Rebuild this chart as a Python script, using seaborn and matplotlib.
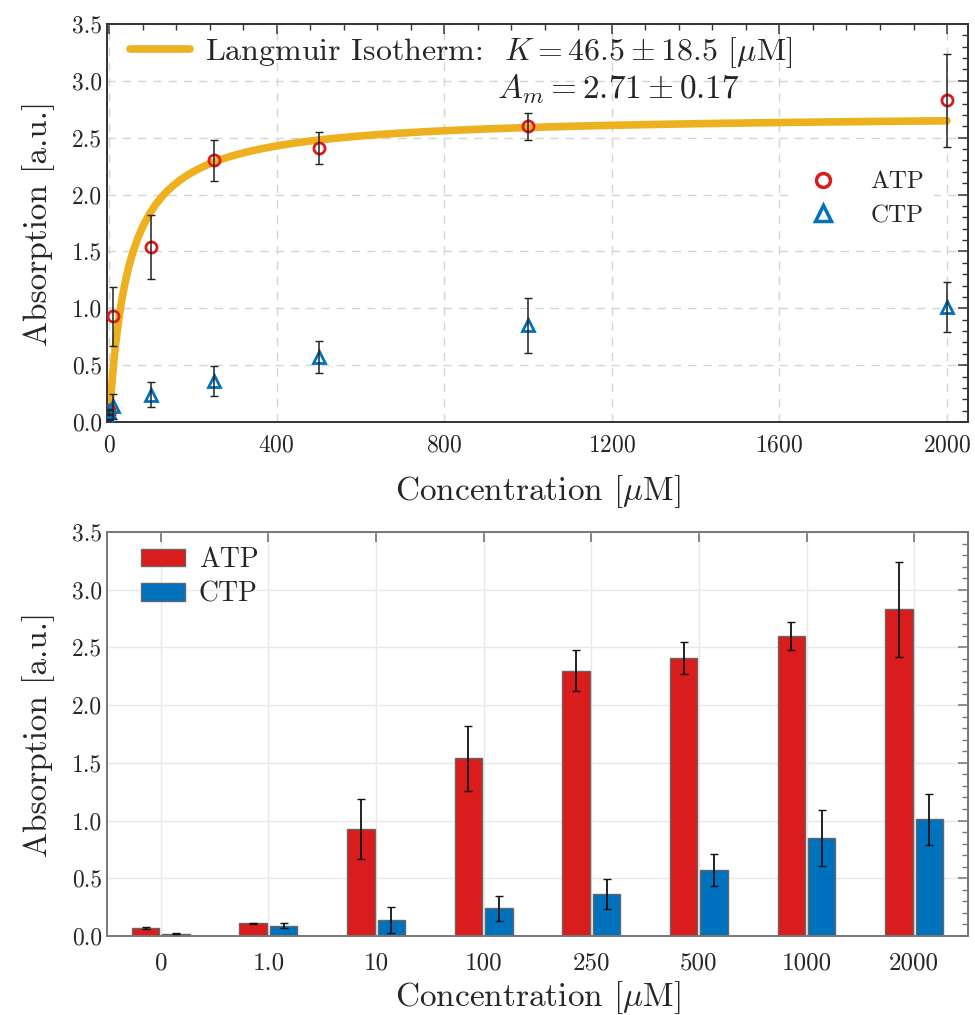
import numpy as np
import pandas as pd
import seaborn as sns
import matplotlib
matplotlib.use('Agg')
import matplotlib.pyplot as plt
from matplotlib.ticker import MultipleLocator, FormatStrFormatter

concentrations = [0, 1, 10, 100, 250, 500, 1000, 2000]
conc_labels = ['0', '1.0', '10', '100', '250', '500', '1000', '2000']
atp_mean = [0.07, 0.11, 0.93, 1.54, 2.30, 2.41, 2.60, 2.83]
atp_err = [0.005, 0.005, 0.26, 0.28, 0.18, 0.14, 0.12, 0.41]
ctp_mean = [0.02, 0.09, 0.14, 0.24, 0.36, 0.57, 0.85, 1.01]
ctp_err = [0.005, 0.02, 0.11, 0.11, 0.13, 0.14, 0.24, 0.22]

# Langmuir fit parameters
K_FIT = 46.5
AM_FIT = 2.71

RED = '#D91C1C'
BLUE = '#0072BD'
ORANGE = '#EDB120'
UNIT = r'[$\mu$M]'

sns.set_theme(style='white')
plt.rcParams['font.family'] = ['cmr10', 'DejaVu Serif']
plt.rcParams['mathtext.fontset'] = 'cm'
plt.rcParams['axes.formatter.use_mathtext'] = True
plt.rcParams['xtick.direction'] = 'in'
plt.rcParams['ytick.direction'] = 'in'

fig = plt.figure(figsize=(9.75, 10.15), dpi=100)
ax1 = fig.add_axes([0.1097, 0.5842, 0.8831, 0.3922])
ax2 = fig.add_axes([0.1097, 0.0778, 0.8831, 0.3981])

# ---- top: isotherm ----
c_fit = np.linspace(0, 2000, 500)
a_fit = AM_FIT * c_fit / (K_FIT + c_fit)
sns.lineplot(x=c_fit, y=a_fit, ax=ax1, color=ORANGE, lw=5.5, zorder=2,
             label=r'Langmuir Isotherm:  $K = 46.5 \pm 18.5$ ' + UNIT)

ax1.errorbar(concentrations, atp_mean, yerr=atp_err, fmt='none', ecolor='#222222',
             elinewidth=1.1, capsize=3, zorder=4)
ax1.errorbar(concentrations, ctp_mean, yerr=ctp_err, fmt='none', ecolor='#222222',
             elinewidth=1.1, capsize=3, zorder=4)
ax1.plot(concentrations, atp_mean, ls='none', marker='o', ms=8, mfc='none',
         mec=RED, mew=2, zorder=3)
ax1.plot(concentrations, ctp_mean, ls='none', marker='^', ms=9, mfc='none',
         mec=BLUE, mew=2, zorder=3)

ax1.text(0.453, 0.835, r'$A_m = 2.71 \pm 0.17$', transform=ax1.transAxes,
         fontsize=24, va='center', ha='left')

leg1 = ax1.legend(loc='upper left', bbox_to_anchor=(-0.007, 1.045), frameon=False,
                  fontsize=23, handlelength=1.9, handletextpad=0.45)
ax1.add_artist(leg1)
h_atp = plt.Line2D([], [], ls='none', marker='o', ms=10, mfc='none', mec=RED, mew=2.5)
h_ctp = plt.Line2D([], [], ls='none', marker='^', ms=11, mfc='none', mec=BLUE, mew=2.5)
ax1.legend([h_atp, h_ctp], ['ATP', 'CTP'], loc='center right',
           bbox_to_anchor=(0.975, 0.56), frameon=True, facecolor='white',
           edgecolor='none', framealpha=1, fontsize=18, handletextpad=0.9,
           labelspacing=0.45)

ax1.set_xlim(-5, 2050)
ax1.set_ylim(0, 3.5)
ax1.xaxis.set_major_locator(MultipleLocator(400))
ax1.xaxis.set_minor_locator(MultipleLocator(80))
ax1.yaxis.set_major_locator(MultipleLocator(0.5))
ax1.yaxis.set_minor_locator(MultipleLocator(0.1))
ax1.yaxis.set_major_formatter(FormatStrFormatter('%.1f'))
ax1.grid(True, which='major', ls=(0, (6, 5)), color='#d4d4d4', lw=1)
ax1.set_axisbelow(True)
ax1.tick_params(which='both', top=True, right=True, color='#333333', labelsize=17)
ax1.tick_params(which='major', length=7, width=1.1)
ax1.tick_params(axis='x', which='major', pad=9)
ax1.tick_params(which='minor', length=4, width=1)
for sp in ax1.spines.values():
    sp.set_color('#333333')
    sp.set_linewidth(1.4)
ax1.set_xlabel('Concentration ' + UNIT, fontsize=24, labelpad=12)
ax1.set_ylabel('Absorption [a.u.]', fontsize=24, labelpad=12)

# ---- bottom: bars ----
bar_df = pd.DataFrame({
    'conc': conc_labels * 2,
    'value': atp_mean + ctp_mean,
    'nuc': ['ATP'] * len(conc_labels) + ['CTP'] * len(conc_labels),
})
sns.barplot(data=bar_df, x='conc', y='value', hue='nuc', order=conc_labels,
            palette=[RED, BLUE], width=0.566, gap=0.1, errorbar=None,
            edgecolor='#666666', linewidth=1, saturation=1, ax=ax2, zorder=2)

for cont, errs in zip(ax2.containers, [atp_err, ctp_err]):
    xs = [p.get_x() + p.get_width() / 2 for p in cont]
    ys = [p.get_height() for p in cont]
    ax2.errorbar(xs, ys, yerr=errs, fmt='none', ecolor='#111111',
                 elinewidth=1.3, capsize=3.2, zorder=4)

ax2.set_xlim(-0.5, 7.5)
ax2.set_ylim(0, 3.5)
ax2.yaxis.set_major_locator(MultipleLocator(0.5))
ax2.yaxis.set_minor_locator(MultipleLocator(0.1))
ax2.yaxis.set_major_formatter(FormatStrFormatter('%.1f'))
ax2.grid(True, which='major', color='#e8e8e8', lw=1)
ax2.set_axisbelow(True)
ax2.tick_params(which='both', top=True, right=True, color='#777777', labelsize=18)
ax2.tick_params(axis='x', which='major', bottom=False, top=True, length=7, pad=12)
ax2.tick_params(axis='y', which='major', length=7, width=1.1, labelsize=17)
ax2.tick_params(which='minor', length=4, width=1)
for sp in ax2.spines.values():
    sp.set_color('#777777')
    sp.set_linewidth(1.4)
ax2.set_xlabel('Concentration ' + UNIT, fontsize=24, labelpad=3)
ax2.set_ylabel('Absorption [a.u.]', fontsize=24, labelpad=12)
ax2.legend(loc='upper left', bbox_to_anchor=(0.01, 1.025), frameon=False, fontsize=20,
           handlelength=1.6, handleheight=0.6, handletextpad=0.5, labelspacing=0.3)

fig.savefig('out.png', dpi=100)
